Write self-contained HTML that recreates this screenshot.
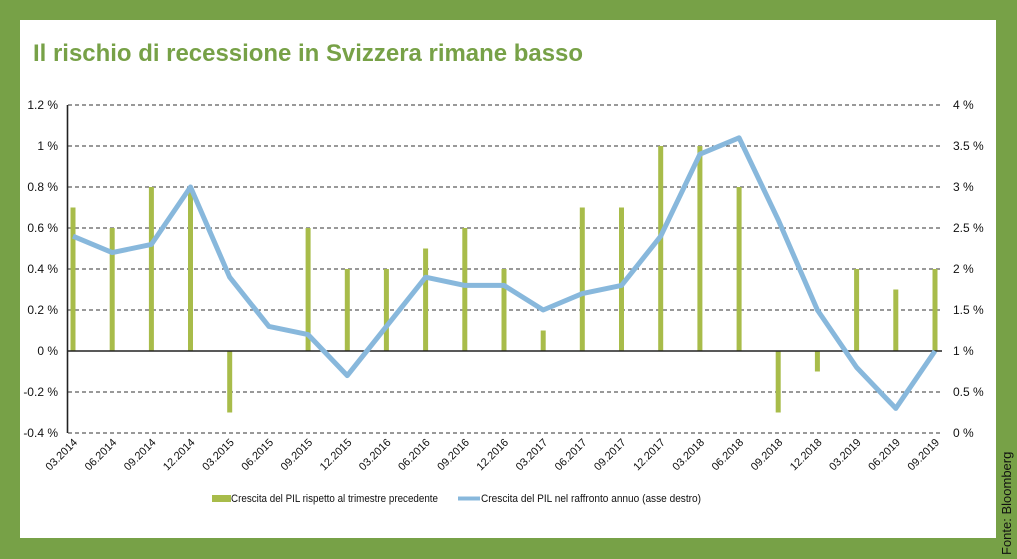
<!DOCTYPE html>
<html><head><meta charset="utf-8"><style>
body{margin:0;}
svg{display:block;font-family:"Liberation Sans",Arial,sans-serif;}
</style></head><body>
<svg width="1017" height="559" viewBox="0 0 1017 559" xmlns="http://www.w3.org/2000/svg">
<rect width="1017" height="559" fill="#77a147"/>
<rect x="20" y="20" width="976" height="518" fill="#fff"/>
<text x="33" y="61" font-size="24" font-weight="bold" fill="#77a147" textLength="550" lengthAdjust="spacingAndGlyphs">Il rischio di recessione in Svizzera rimane basso</text>
<text transform="translate(1011,555) rotate(-90)" font-size="13" fill="#111">Fonte: Bloomberg</text>
<g stroke="#333" stroke-width="1" stroke-dasharray="4,3">
<line x1="68" y1="105" x2="942" y2="105"/>
<line x1="68" y1="146" x2="942" y2="146"/>
<line x1="68" y1="187" x2="942" y2="187"/>
<line x1="68" y1="228" x2="942" y2="228"/>
<line x1="68" y1="269" x2="942" y2="269"/>
<line x1="68" y1="310" x2="942" y2="310"/>
<line x1="68" y1="392" x2="942" y2="392"/>
<line x1="68" y1="433" x2="942" y2="433"/>
</g>
<g fill="#a8bc4a">
<rect x="70.5" y="207.5" width="5" height="143.5"/>
<rect x="109.7" y="228" width="5" height="123"/>
<rect x="148.9" y="187" width="5" height="164"/>
<rect x="188" y="187" width="5" height="164"/>
<rect x="227.2" y="351" width="5" height="61.5"/>
<rect x="305.6" y="228" width="5" height="123"/>
<rect x="344.8" y="269" width="5" height="82"/>
<rect x="383.9" y="269" width="5" height="82"/>
<rect x="423.1" y="248.5" width="5" height="102.5"/>
<rect x="462.3" y="228" width="5" height="123"/>
<rect x="501.5" y="269" width="5" height="82"/>
<rect x="540.7" y="330.5" width="5" height="20.5"/>
<rect x="579.8" y="207.5" width="5" height="143.5"/>
<rect x="619" y="207.5" width="5" height="143.5"/>
<rect x="658.2" y="146" width="5" height="205"/>
<rect x="697.4" y="146" width="5" height="205"/>
<rect x="736.6" y="187" width="5" height="164"/>
<rect x="775.7" y="351" width="5" height="61.5"/>
<rect x="814.9" y="351" width="5" height="20.5"/>
<rect x="854.1" y="269" width="5" height="82"/>
<rect x="893.3" y="289.5" width="5" height="61.5"/>
<rect x="932.5" y="269" width="5" height="82"/>
</g>
<line x1="67" y1="351" x2="942" y2="351" stroke="#222" stroke-width="1.6"/>
<line x1="67.5" y1="105" x2="67.5" y2="433" stroke="#222" stroke-width="1.6"/>
<polyline fill="none" stroke="#88b8dc" stroke-width="5" stroke-linejoin="round" points="73,236.2 112.2,252.6 151.4,244.4 190.5,187 229.7,277.2 268.9,326.4 308.1,334.6 347.3,375.6 386.4,326.4 425.6,277.2 464.8,285.4 504,285.4 543.2,310 582.3,293.6 621.5,285.4 660.7,236.2 699.9,154.2 739.1,137.8 778.2,219.8 817.4,310 856.6,367.4 895.8,408.4 935,351"/>
<g font-size="12" fill="#111" text-anchor="end">
<text x="58" y="109">1.2 %</text>
<text x="58" y="150">1 %</text>
<text x="58" y="191">0.8 %</text>
<text x="58" y="232">0.6 %</text>
<text x="58" y="273">0.4 %</text>
<text x="58" y="314">0.2 %</text>
<text x="58" y="355">0 %</text>
<text x="58" y="396">-0.2 %</text>
<text x="58" y="437">-0.4 %</text>
</g>
<g font-size="12" fill="#111">
<text x="953" y="109">4 %</text>
<text x="953" y="150">3.5 %</text>
<text x="953" y="191">3 %</text>
<text x="953" y="232">2.5 %</text>
<text x="953" y="273">2 %</text>
<text x="953" y="314">1.5 %</text>
<text x="953" y="355">1 %</text>
<text x="953" y="396">0.5 %</text>
<text x="953" y="437">0 %</text>
</g>
<g font-size="11" fill="#111" text-anchor="end">
<text transform="translate(78,443) rotate(-45)">03.2014</text>
<text transform="translate(117.2,443) rotate(-45)">06.2014</text>
<text transform="translate(156.4,443) rotate(-45)">09.2014</text>
<text transform="translate(195.5,443) rotate(-45)">12.2014</text>
<text transform="translate(234.7,443) rotate(-45)">03.2015</text>
<text transform="translate(273.9,443) rotate(-45)">06.2015</text>
<text transform="translate(313.1,443) rotate(-45)">09.2015</text>
<text transform="translate(352.3,443) rotate(-45)">12.2015</text>
<text transform="translate(391.4,443) rotate(-45)">03.2016</text>
<text transform="translate(430.6,443) rotate(-45)">06.2016</text>
<text transform="translate(469.8,443) rotate(-45)">09.2016</text>
<text transform="translate(509,443) rotate(-45)">12.2016</text>
<text transform="translate(548.2,443) rotate(-45)">03.2017</text>
<text transform="translate(587.3,443) rotate(-45)">06.2017</text>
<text transform="translate(626.5,443) rotate(-45)">09.2017</text>
<text transform="translate(665.7,443) rotate(-45)">12.2017</text>
<text transform="translate(704.9,443) rotate(-45)">03.2018</text>
<text transform="translate(744.1,443) rotate(-45)">06.2018</text>
<text transform="translate(783.2,443) rotate(-45)">09.2018</text>
<text transform="translate(822.4,443) rotate(-45)">12.2018</text>
<text transform="translate(861.6,443) rotate(-45)">03.2019</text>
<text transform="translate(900.8,443) rotate(-45)">06.2019</text>
<text transform="translate(940,443) rotate(-45)">09.2019</text>
</g>
<rect x="212" y="495" width="19" height="7" fill="#a8bc4a"/>
<text x="231" y="502" font-size="11" fill="#111" textLength="207" lengthAdjust="spacingAndGlyphs">Crescita del PIL rispetto al trimestre precedente</text>
<line x1="458" y1="498.5" x2="480" y2="498.5" stroke="#88b8dc" stroke-width="4"/>
<text x="481" y="502" font-size="11" fill="#111" textLength="220" lengthAdjust="spacingAndGlyphs">Crescita del PIL nel raffronto annuo (asse destro)</text>
</svg>
</body></html>
